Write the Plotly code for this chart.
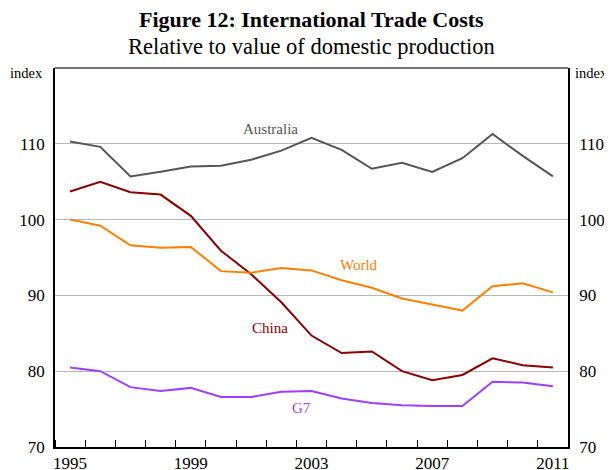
import plotly.graph_objects as go

years = list(range(1995, 2012))
australia = [110.3, 109.6, 105.7, 106.3, 107.0, 107.1, 107.9, 109.1, 110.8, 109.2, 106.7, 107.5, 106.3, 108.1, 111.3, 108.4, 105.7]
china = [103.7, 105.0, 103.6, 103.3, 100.5, 95.9, 92.8, 89.1, 84.7, 82.4, 82.6, 80.0, 78.8, 79.5, 81.7, 80.8, 80.5]
world = [100.0, 99.2, 96.6, 96.3, 96.4, 93.2, 93.0, 93.6, 93.3, 92.0, 91.0, 89.6, 88.8, 88.0, 91.2, 91.6, 90.4]
g7 = [80.5, 80.0, 77.9, 77.4, 77.8, 76.6, 76.6, 77.3, 77.4, 76.4, 75.8, 75.5, 75.4, 75.4, 78.6, 78.5, 78.0]

year_labels = [1995, 1999, 2003, 2007, 2011]
y_ticks = [70, 80, 90, 100, 110]

series = [
    ("Australia", australia, "#555555", 2001.64, 111.97),
    ("China", china, "#8B0000", 2001.64, 85.66),
    ("World", world, "#FF8000", 2004.59, 93.95),
    ("G7", g7, "#A040FF", 2002.66, 75.13),
]

FONT = "Liberation Serif"
fig = go.Figure()
for name, vals, color, lx, ly in series:
    fig.add_trace(go.Scatter(x=years, y=vals, mode="lines", name=name,
                             line=dict(color=color, width=2), showlegend=False,
                             hoverinfo="skip"))
    fig.add_annotation(x=lx, y=ly, text=name, showarrow=False,
                       font=dict(family=FONT, size=15, color=color))

# invisible trace to anchor the right axis
fig.add_trace(go.Scatter(x=[years[0]], y=[australia[0]], yaxis="y2", mode="lines",
                         line=dict(width=0), showlegend=False, hoverinfo="skip"))

fig.update_layout(
    width=604, height=462,
    margin=dict(l=47, r=44, t=60, b=23, autoexpand=False),
    paper_bgcolor="white", plot_bgcolor="white",
    font=dict(family=FONT, size=17, color="black"),
    xaxis=dict(range=[1994.5, 2011.5], tickvals=year_labels,
               ticktext=[str(v) for v in year_labels], ticks="",
               showgrid=False, zeroline=False, showline=True, automargin=False,
               linecolor="black", linewidth=1.5,
               minor=dict(tick0=1995.5, dtick=1, ticks="inside", ticklen=7,
                          tickcolor="black", tickwidth=1, showgrid=False),
               tickfont=dict(family=FONT, size=17)),
    yaxis=dict(range=[70, 120], tickvals=y_ticks, ticks="", automargin=False,
               showgrid=True, gridcolor="#B8B8B8", gridwidth=1,
               zeroline=False, showline=True, linecolor="black", linewidth=1.5,
               tickfont=dict(family=FONT, size=17), ticklabelstandoff=5),
    yaxis2=dict(range=[70, 120], tickvals=y_ticks, ticks="", overlaying="y",
                side="right", showgrid=False, zeroline=False, showline=True,
                automargin=False, linecolor="black", linewidth=1.5,
                tickfont=dict(family=FONT, size=17), ticklabelstandoff=6),
    shapes=[dict(type="line", xref="paper", yref="paper", x0=0, x1=1, y0=1, y1=1,
                 line=dict(color="#444444", width=1.5))],
)

fig.add_annotation(xref="paper", yref="paper", x=0.5, y=1, yshift=49,
                   text="<b>Figure 12: International Trade Costs</b>", showarrow=False,
                   font=dict(family=FONT, size=22, color="black"), yanchor="middle")
fig.add_annotation(xref="paper", yref="paper", x=0.5, y=1, yshift=22,
                   text="Relative to value of domestic production", showarrow=False,
                   font=dict(family=FONT, size=22.5, color="black"), yanchor="middle")
fig.add_annotation(xref="paper", yref="paper", x=0, y=1, xshift=-47, yshift=-5,
                   text="index", showarrow=False, xanchor="left", yanchor="middle",
                   font=dict(family=FONT, size=14.5, color="black"))
fig.add_annotation(xref="paper", yref="paper", x=1, y=1, xshift=5, yshift=-5,
                   text="index", showarrow=False, xanchor="left", yanchor="middle",
                   font=dict(family=FONT, size=14.5, color="black"))

fig.write_html("out.html")
